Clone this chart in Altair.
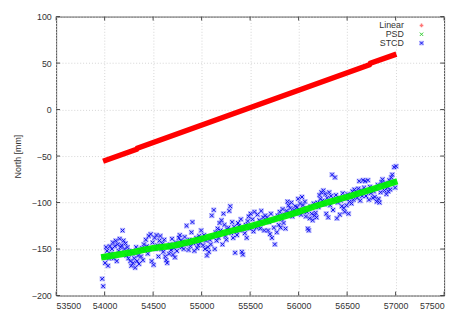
import altair as alt
import pandas as pd

# ---- data ----
lin_x = [53984, 54330, 54337, 56730, 56740, 57008]
lin_y = [-55.6, -42.6, -41.5, 48.2, 49.8, 59.6]

psd_x = [53964, 54250, 54500, 54720, 55000, 55250, 55516, 55750, 56000, 56292, 56500, 56750, 57018]
psd_y = [-159, -154, -149, -146, -139, -132, -125, -118, -110, -100, -94, -86, -77]

stcd_start = 53975
stcd_step = 10
stcd_rows = [
    [-182, -190, -158, -165, -148, -152, -168, -160, -147, -155],
    [-150, -143, -160, -147, -141, -163, -145, -152, -139, -148],
    [-146, -130, -141, -150, -144, -157, -148, -160, -152, -163],
    [-168, -155, -165, -160, -170, -148, -163, -157, -166, -151],
    [-158, -149, -162, -145, -151, -140, -147, -155, -136, -150],
    [-134, -163, -143, -167, -138, -150, -135, -146, -158, -141],
    [-136, -150, -144, -153, -140, -158, -162, -165, -148, -155],
    [-145, -151, -139, -156, -149, -159, -143, -152, -147, -138],
    [-135, -141, -148, -142, -150, -137, -145, -125, -143, -151],
    [-140, -147, -132, -121, -144, -152, -142, -138, -149, -146],
    [-136, -143, -130, -139, -146, -135, -150, -141, -157, -148],
    [-153, -140, -145, -114, -137, -108, -150, -132, -141, -128],
    [-138, -122, -130, -119, -145, -112, -124, -136, -140, -129],
    [-127, -109, -104, -133, -121, -138, -126, -154, -131, -135],
    [-122, -125, -130, -118, -153, -156, -128, -133, -124, -138],
    [-120, -115, -128, -112, -126, -118, -131, -110, -124, -127],
    [-113, -125, -119, -128, -109, -122, -116, -130, -114, -120],
    [-116, -130, -121, -134, -112, -138, -119, -127, -145, -117],
    [-132, -114, -124, -110, -127, -118, -107, -122, -113, -128],
    [-109, -99, -103, -111, -106, -100, -115, -110, -108, -104],
    [-112, -105, -96, -108, -101, -113, -94, -103, -110, -99],
    [-115, -110, -128, -130, -117, -104, -112, -119, -101, -114],
    [-111, -116, -100, -105, -92, -96, -89, -98, -87, -102],
    [-91, -112, -95, -116, -89, -103, -93, -70, -108, -97],
    [-73, -92, -117, -100, -95, -113, -98, -104, -90, -106],
    [-110, -96, -103, -91, -112, -99, -94, -101, -88, -97],
    [-86, -92, -89, -95, -85, -77, -98, -87, -93, -76],
    [-84, -77, -93, -88, -76, -97, -83, -90, -86, -95],
    [-88, -94, -85, -99, -81, -96, -100, -89, -78, -75],
    [-82, -87, -79, -91, -84, -88, -76, -86, -73, -70],
    [-78, -62, -84, -61],
]

x_ticks = [53500, 54000, 54500, 55000, 55500, 56000, 56500, 57000, 57500]
y_ticks = [-200, -150, -100, -50, 0, 50, 100]

legend_labels = ["Linear", "PSD", "STCD"]

# ---- frames ----
stcd_y = [v for row in stcd_rows for v in row]
stcd_x = [stcd_start + stcd_step * i for i in range(len(stcd_y))]

df_lin = pd.DataFrame({"mjd": lin_x, "north": lin_y})
df_psd = pd.DataFrame({"mjd": psd_x, "north": psd_y})
df_stcd = pd.DataFrame({"mjd": stcd_x, "north": stcd_y})
df_xt = pd.DataFrame({"t": x_ticks})
df_yt = pd.DataFrame({"t": y_ticks})
df_one = pd.DataFrame({"k": [0]})

W, H = 395, 284
FONT = "Liberation Sans"
TXT = "#333333"

xs = alt.Scale(domain=[53500, 57500], nice=False, zero=False)
ys = alt.Scale(domain=[-200, 100], nice=False, zero=False)

xaxis = alt.Axis(values=x_ticks, grid=True, gridColor="#d4d4d4", gridDash=[1, 2],
                 ticks=False, domain=False, labelFont=FONT, labelFontSize=9,
                 labelColor=TXT, labelPadding=6, title=None, format="d")
yaxis = alt.Axis(values=y_ticks, grid=True, gridColor="#d4d4d4", gridDash=[1, 2],
                 ticks=False, domain=False, labelFont=FONT, labelFontSize=9,
                 labelColor=TXT, labelPadding=5, title="North [mm]",
                 titleFont=FONT, titleFontSize=9, titleFontWeight="normal",
                 titleColor=TXT, titlePadding=9)

# grid / axes carrier
grid = alt.Chart(df_stcd).mark_point(opacity=0).encode(
    x=alt.X("mjd:Q", scale=xs, axis=xaxis),
    y=alt.Y("north:Q", scale=ys, axis=yaxis),
)
# inward ticks
frame_t = alt.Chart(df_xt).mark_rule(color="#444", strokeWidth=1).encode(
    x=alt.X("t:Q", scale=xs), y=alt.value(0), y2=alt.value(4))
frame_b = alt.Chart(df_xt).mark_rule(color="#444", strokeWidth=1).encode(
    x=alt.X("t:Q", scale=xs), y=alt.value(H), y2=alt.value(H - 4))
frame_l = alt.Chart(df_yt).mark_rule(color="#444", strokeWidth=1).encode(
    y=alt.Y("t:Q", scale=ys), x=alt.value(0), x2=alt.value(4))
frame_r = alt.Chart(df_yt).mark_rule(color="#444", strokeWidth=1).encode(
    y=alt.Y("t:Q", scale=ys), x=alt.value(W), x2=alt.value(W - 4))

lin = alt.Chart(df_lin).mark_line(color="#ff0000", strokeWidth=5.5, strokeCap="butt").encode(
    x=alt.X("mjd:Q", scale=xs), y=alt.Y("north:Q", scale=ys))
psd = alt.Chart(df_psd).mark_line(color="#00f000", strokeWidth=6.5, strokeCap="butt",
                                  interpolate="monotone", opacity=0.95).encode(
    x=alt.X("mjd:Q", scale=xs), y=alt.Y("north:Q", scale=ys))

XPATH = "M-1,-1L1,1M1,-1L-1,1"
stcd_box = alt.Chart(df_stcd).mark_point(shape="square", filled=True, size=28,
                                         color="#8a8aff", opacity=0.55).encode(
    x=alt.X("mjd:Q", scale=xs), y=alt.Y("north:Q", scale=ys))
stcd = alt.Chart(df_stcd).mark_point(shape=XPATH, filled=False, size=14,
                                     color="#1010ee", strokeWidth=1, opacity=1).encode(
    x=alt.X("mjd:Q", scale=xs), y=alt.Y("north:Q", scale=ys))

# legend (gnuplot style: label right-aligned, symbol to the right)
leg_layers = []
for lab, py in zip(legend_labels, [9, 18, 27]):
    leg_layers.append(alt.Chart(df_one).mark_text(
        align="right", baseline="middle", font=FONT, fontSize=9, color=TXT, text=lab
    ).encode(x=alt.value(354), y=alt.value(py)))
leg_layers.append(alt.Chart(df_one).mark_point(shape="cross", filled=True, size=14,
                                               color="#ff6666", opacity=0.9).encode(
    x=alt.value(372), y=alt.value(9)))
leg_layers.append(alt.Chart(df_one).mark_point(shape=XPATH, size=12, color="#33cc33",
                                               strokeWidth=1, opacity=1).encode(
    x=alt.value(372), y=alt.value(18)))
leg_layers.append(alt.Chart(df_one).mark_point(shape="square", filled=True, size=22,
                                               color="#8a8aff", opacity=0.55).encode(
    x=alt.value(372), y=alt.value(27)))
leg_layers.append(alt.Chart(df_one).mark_point(shape=XPATH, size=10, color="#1010ee",
                                               strokeWidth=1, opacity=1).encode(
    x=alt.value(372), y=alt.value(27)))

chart = alt.layer(
    grid, frame_t, frame_b, frame_l, frame_r, lin, stcd_box, stcd, psd, *leg_layers
).properties(
    width=W, height=H,
    autosize=alt.AutoSizeParams(type="none"),
    padding={"left": 49, "top": 6, "right": 6, "bottom": 13},
    background="white",
).configure_view(stroke="#444444", strokeWidth=1)

chart.save("out.html", embed_options={"renderer": "svg", "actions": False})
